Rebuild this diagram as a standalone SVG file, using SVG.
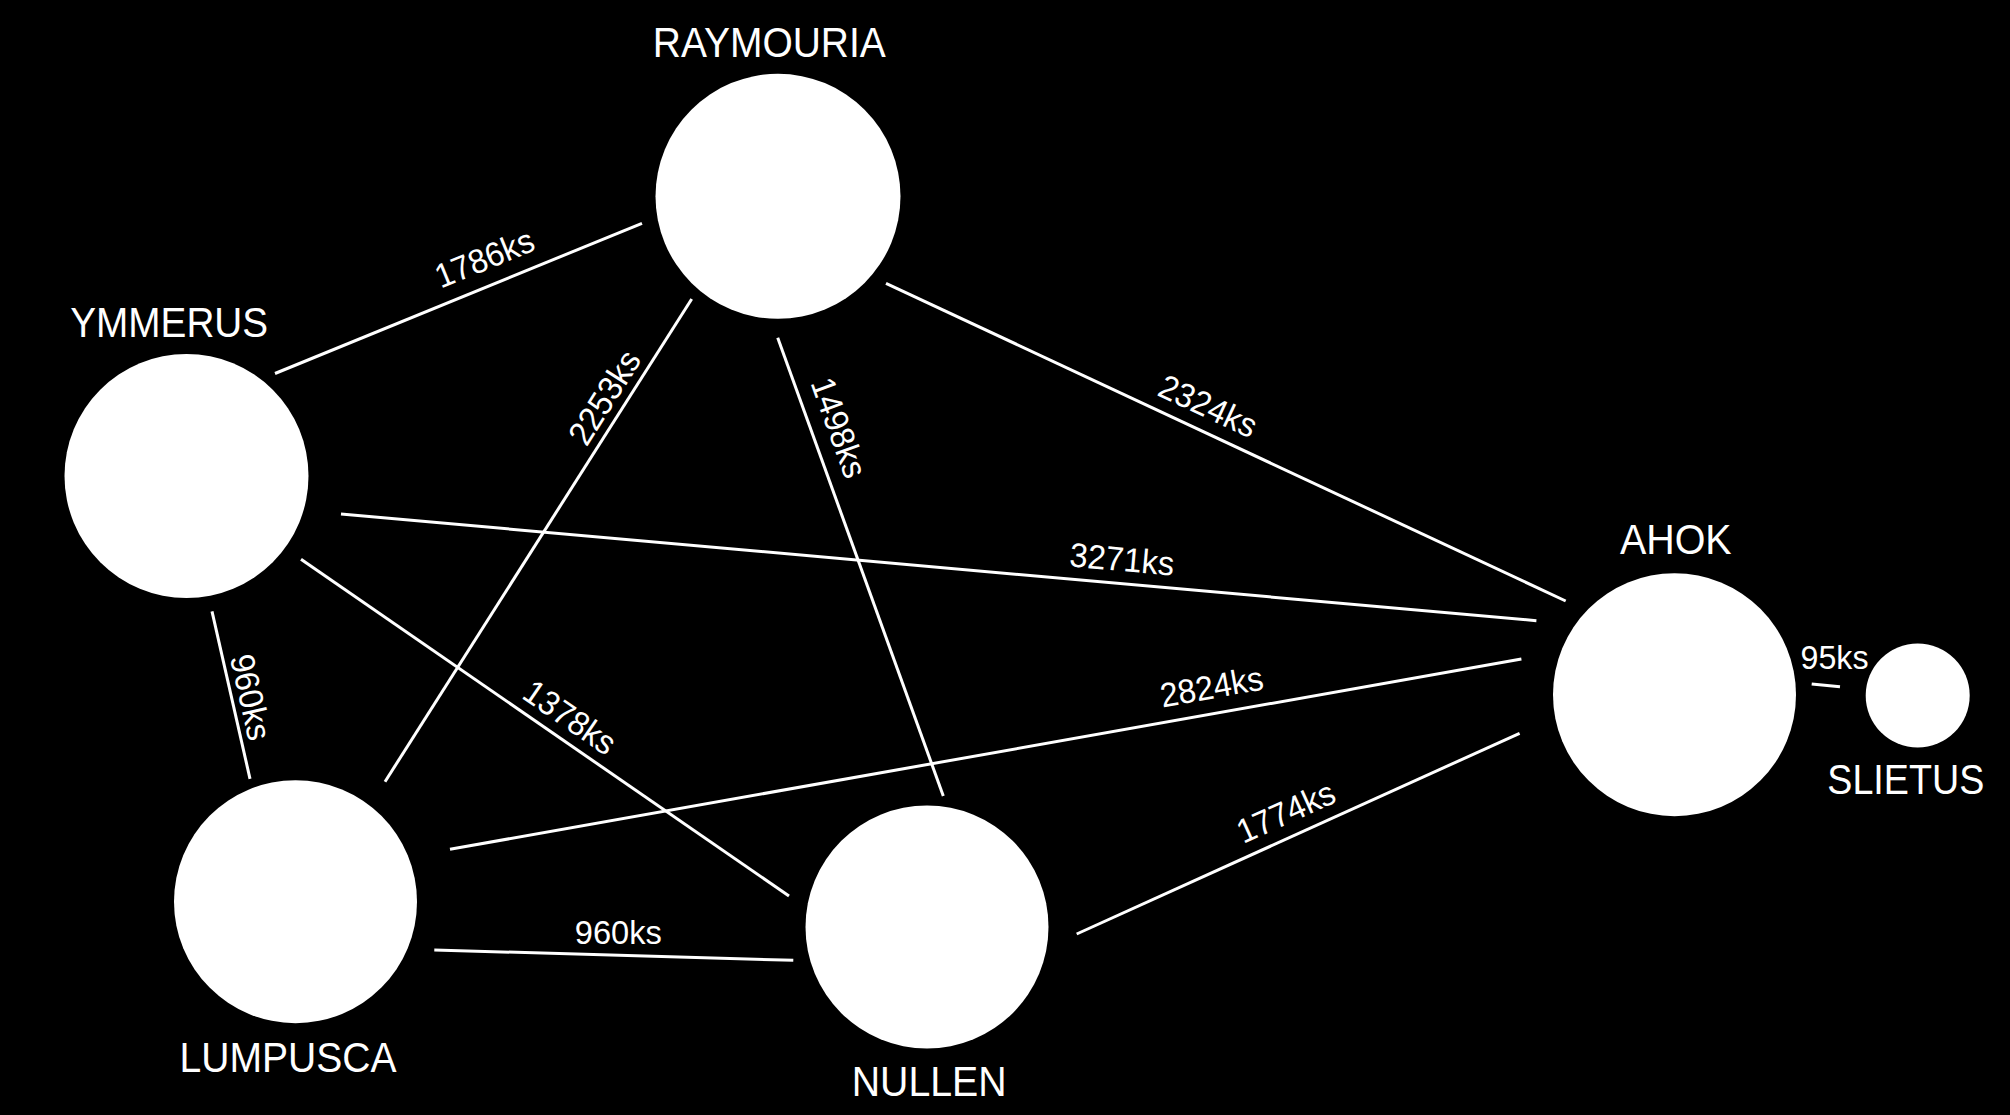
<svg xmlns="http://www.w3.org/2000/svg" width="2010" height="1115" viewBox="0 0 2010 1115">
<style>
.bg{fill:#000}
.node circle{fill:#fff}
.name{fill:#fff;font-family:"Liberation Sans",Arial,sans-serif;font-size:43px;text-anchor:middle}
.edges line{stroke:#fff;stroke-width:3;stroke-linecap:butt}
.lbl{fill:#fff;font-family:"Liberation Sans",Arial,sans-serif;font-size:34px;text-anchor:middle}
</style>
<rect class="bg" x="0" y="0" width="2010" height="1115"/>
<g id="connectors" class="edges">
  <line x1="275" y1="373.5" x2="642" y2="223.3"/>
  <line x1="341" y1="514" x2="1536.4" y2="620.7"/>
  <line x1="301" y1="559.3" x2="789" y2="896"/>
  <line x1="212" y1="611.3" x2="250" y2="778.8"/>
  <line x1="691.7" y1="299" x2="385" y2="781.7"/>
  <line x1="777.7" y1="337.7" x2="943.3" y2="796"/>
  <line x1="886" y1="283.3" x2="1565.7" y2="601"/>
  <line x1="450" y1="849.3" x2="1521.4" y2="659"/>
  <line x1="434.3" y1="950" x2="793.3" y2="960.3"/>
  <line x1="1076.7" y1="934" x2="1519.6" y2="733.3"/>
  <line x1="1811.7" y1="684" x2="1840" y2="686.7"/>
  <text class="lbl" transform="translate(484.3,258) rotate(-22.2)" y="12" textLength="104" lengthAdjust="spacingAndGlyphs">1786ks</text>
  <text class="lbl" transform="translate(1122,559) rotate(5.1)" y="12" textLength="105" lengthAdjust="spacingAndGlyphs">3271ks</text>
  <text class="lbl" transform="translate(570,717) rotate(34.6)" y="12" textLength="104" lengthAdjust="spacingAndGlyphs">1378ks</text>
  <text class="lbl" transform="translate(251,697) rotate(77.4)" y="12" textLength="87" lengthAdjust="spacingAndGlyphs">960ks</text>
  <text class="lbl" transform="translate(604.2,397.2) rotate(-57.6)" y="12" textLength="104" lengthAdjust="spacingAndGlyphs">2253ks</text>
  <text class="lbl" transform="translate(839.2,427.5) rotate(70.1)" y="12" textLength="104" lengthAdjust="spacingAndGlyphs">1498ks</text>
  <text class="lbl" transform="translate(1208.3,405.8) rotate(25.05)" y="12" textLength="104" lengthAdjust="spacingAndGlyphs">2324ks</text>
  <text class="lbl" transform="translate(1211.5,686.5) rotate(-10.07)" y="12" textLength="104" lengthAdjust="spacingAndGlyphs">2824ks</text>
  <text class="lbl" transform="translate(618.3,931.7)" y="12" textLength="87" lengthAdjust="spacingAndGlyphs">960ks</text>
  <text class="lbl" transform="translate(1285.7,811.7) rotate(-24.3)" y="12" textLength="104" lengthAdjust="spacingAndGlyphs">1774ks</text>
  <text class="lbl" transform="translate(1834.5,657)" y="12" textLength="68" lengthAdjust="spacingAndGlyphs">95ks</text>
</g>
<g id="raymouria" class="node">
  <circle cx="778" cy="196.3" r="122.5"/>
  <text class="name" x="769.3" y="57.3" textLength="233" lengthAdjust="spacingAndGlyphs">RAYMOURIA</text>
</g>
<g id="ymmerus" class="node">
  <circle cx="186.5" cy="476" r="122"/>
  <text class="name" x="169.2" y="337.3" textLength="198" lengthAdjust="spacingAndGlyphs">YMMERUS</text>
</g>
<g id="lumpusca" class="node">
  <circle cx="295.5" cy="901.7" r="121.5"/>
  <text class="name" x="288" y="1072.3" textLength="217" lengthAdjust="spacingAndGlyphs">LUMPUSCA</text>
</g>
<g id="nullen" class="node">
  <circle cx="927" cy="927" r="121.5"/>
  <text class="name" x="929.2" y="1096" textLength="155" lengthAdjust="spacingAndGlyphs">NULLEN</text>
</g>
<g id="ahok" class="node">
  <circle cx="1674.5" cy="694.7" r="121.5"/>
  <text class="name" x="1675.8" y="554.3" textLength="111.7" lengthAdjust="spacingAndGlyphs">AHOK</text>
</g>
<g id="slietus" class="node">
  <circle cx="1917.7" cy="695.5" r="52"/>
  <text class="name" x="1905.8" y="794.3" textLength="157" lengthAdjust="spacingAndGlyphs">SLIETUS</text>
</g>
</svg>
